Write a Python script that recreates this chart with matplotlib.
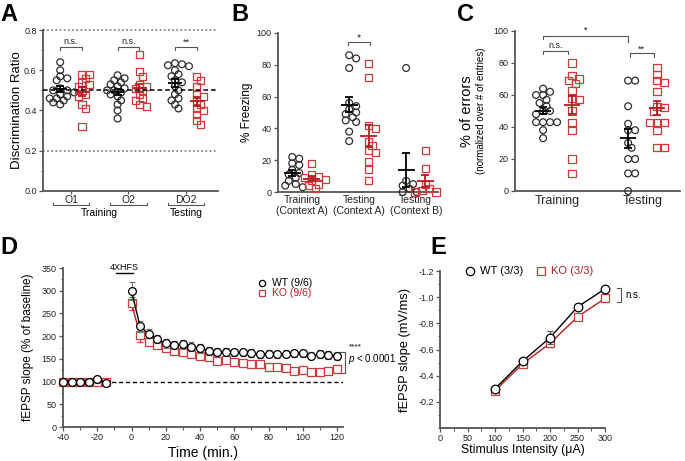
import numpy as np
import matplotlib
matplotlib.use('Agg')
import matplotlib.pyplot as plt
from matplotlib.ticker import MultipleLocator

plt.rcParams['font.family'] = ['Liberation Sans', 'DejaVu Sans']
plt.rcParams['axes.unicode_minus'] = False
plt.rcParams['mathtext.fontset'] = 'custom'
plt.rcParams['mathtext.it'] = 'Liberation Sans:italic'
plt.rcParams['mathtext.rm'] = 'Liberation Sans'

WT = '#2e2e2e'
KO = '#cf3a3a'
KO_DARK = '#b31d22'
GREY = '#555555'

# ---------------- data ----------------
# A: discrimination ratio
a_groups = ['O1', 'O2', 'DO2']
a_wt = [
    [0.64, 0.60, 0.56, 0.57, 0.55, 0.50, 0.46, 0.51, 0.50, 0.49, 0.48, 0.47, 0.46, 0.45, 0.44, 0.43],
    [0.575, 0.56, 0.55, 0.54, 0.53, 0.52, 0.51, 0.50, 0.50, 0.49, 0.48, 0.47, 0.45, 0.43, 0.40, 0.36],
    [0.635, 0.63, 0.625, 0.62, 0.60, 0.58, 0.57, 0.55, 0.54, 0.52, 0.50, 0.48, 0.46, 0.45, 0.43, 0.41],
]
a_ko = [
    [0.58, 0.58, 0.56, 0.54, 0.53, 0.52, 0.50, 0.48, 0.47, 0.43, 0.41, 0.32],
    [0.68, 0.595, 0.57, 0.53, 0.52, 0.51, 0.50, 0.48, 0.46, 0.45, 0.43, 0.42],
    [0.57, 0.55, 0.52, 0.48, 0.47, 0.45, 0.43, 0.41, 0.40, 0.38, 0.35, 0.33],
]

# B: % freezing
b_groups = ['Training\n(Context A)', 'Testing\n(Context A)', 'Testing\n(Context B)']
b_wt = [
    [22, 21, 18, 17, 14, 12, 11, 9, 7, 5, 4, 3],
    [86, 84, 78, 56, 54, 52, 50, 49, 47, 45, 44, 38, 32],
    [78, 7, 5, 4, 2, 0, 0],
]
b_ko = [
    [18, 11, 10, 9, 8, 7, 5, 4, 2],
    [81, 72, 42, 40, 32, 29, 26, 25, 19, 14, 7],
    [26, 15, 5, 2, 1, 0, 0],
]

# C: % of errors
c_groups = ['Training', 'Testing']
c_wt = [
    [64, 62, 60, 60, 57, 55, 53, 50, 50, 48, 43, 43, 43, 43, 38, 33],
    [69, 69, 53, 42, 38, 38, 30, 27, 20, 20, 11, 11, 0],
]
c_ko = [
    [80, 72, 70, 69, 67, 63, 58, 57, 50, 43, 38, 20, 11],
    [77, 73, 69, 68, 62, 53, 52, 50, 43, 43, 43, 38, 27, 27],
]

# D: LTP time course
d_t_base = [-40, -35, -30, -25, -20, -15]
d_wt_base = [100, 100, 100, 99, 105, 97]
d_wt_base_err = [2, 2, 2, 2, 8, 3]
d_ko_base = [100, 100, 100, 100, 99, 100]
d_ko_base_err = [2, 2, 2, 2, 3, 2]
d_t_post = [0, 5, 10, 15, 20, 25, 30, 35, 40, 45, 50, 55, 60, 65, 70, 75,
            80, 85, 90, 95, 100, 105, 110, 115, 120]
d_wt_post = [299, 222, 205, 194, 184, 181, 182, 177, 173, 168, 166, 166, 164,
             164, 163, 160, 161, 160, 161, 162, 162, 157, 160, 159, 157]
d_wt_post_err = [20, 12, 10, 9, 9, 9, 10, 10, 10, 9, 9, 9, 8, 8, 8, 8, 8, 8,
                 8, 8, 8, 8, 9, 9, 9]
d_ko_post = [272, 203, 188, 180, 175, 168, 165, 160, 157, 155, 146, 148, 144,
             140, 139, 139, 131, 131, 129, 123, 125, 122, 122, 123, 127]
d_ko_post_err = [15, 15, 8, 6, 6, 6, 5, 5, 5, 5, 6, 5, 5, 5, 5, 5, 5, 5, 5,
                 5, 5, 5, 5, 5, 5]

# E: input-output
e_x = [100, 150, 200, 250, 300]
e_wt = [-0.30, -0.51, -0.69, -0.925, -1.063]
e_wt_err = [0.02, 0.02, 0.05, 0.02, 0.02]
e_ko = [-0.285, -0.49, -0.647, -0.85, -0.99]
e_ko_err = [0.02, 0.02, 0.03, 0.02, 0.03]

# ---------------- helpers ----------------
W, H = 685, 461
fig = plt.figure(figsize=(W / 100, H / 100), dpi=100)


def px_axes(l, t, r, b):
    return fig.add_axes([l / W, 1 - b / H, (r - l) / W, (b - t) / H])


def style(ax, labelsize=6.5):
    for s in ['top', 'right']:
        ax.spines[s].set_visible(False)
    for s in ['left', 'bottom']:
        ax.spines[s].set_color(GREY)
        ax.spines[s].set_linewidth(1.3)
    ax.tick_params(direction='out', length=3, width=0.9, color=GREY,
                   labelsize=labelsize, labelcolor='#222222', pad=1.5)
    ax.tick_params(which='minor', direction='out', length=1.8, width=0.7, color=GREY)


def swarm_x(ax, center, vals, diam=7.0, gap=0.72):
    # beeswarm offsets computed in pixel space (points may overlap a little)
    bb = ax.get_window_extent()
    x0, x1 = ax.get_xlim()
    y0, y1 = ax.get_ylim()
    sx = bb.width / (x1 - x0)
    sy = bb.height / abs(y1 - y0)
    ys = np.asarray(vals, float) * sy
    offs = np.zeros(len(ys))
    placed = []
    for i in np.argsort(-ys, kind='stable'):
        k = 0
        while True:
            cands = [0.0] if k == 0 else [k * diam / 2, -k * diam / 2]
            hit = [c for c in cands
                   if all((c - px) ** 2 + (ys[i] - py) ** 2 >= (diam * gap) ** 2
                          for px, py in placed)]
            if hit:
                break
            k += 1
        offs[i] = hit[0]
        placed.append((hit[0], ys[i]))
    return center + offs / sx


def dots(ax, center, vals, marker, color, size=24):
    xs = swarm_x(ax, center, vals)
    ax.scatter(xs, vals, s=size, marker=marker, facecolors='none',
               edgecolors=color, linewidths=0.9, zorder=3, clip_on=False)


def mean_sem(ax, x, vals, color, half_w, cap_w):
    v = np.asarray(vals, float)
    m = v.mean()
    s = v.std(ddof=1) / np.sqrt(len(v))
    kw = dict(color=color, lw=1.3, zorder=5, solid_capstyle='butt')
    ax.plot([x - half_w, x + half_w], [m, m], **kw)
    ax.plot([x, x], [m - s, m + s], **kw)
    ax.plot([x - cap_w, x + cap_w], [m + s, m + s], **kw)
    ax.plot([x - cap_w, x + cap_w], [m - s, m - s], **kw)


def sig(ax, x1, x2, y, h, text, fs=6.5, dy=0.0):
    ax.plot([x1, x1, x2, x2], [y - h, y, y, y - h], color=GREY, lw=0.8, clip_on=False)
    ax.text((x1 + x2) / 2, y + dy, text, ha='center', va='bottom', fontsize=fs,
            color='#222222')


def letter(x, y, s):
    fig.text(x / W, 1 - y / H, s, fontsize=17, fontweight='bold', va='top', ha='left')


# ---------------- A ----------------
axA = px_axes(43, 30, 218, 191)
style(axA)
axA.set_xlim(-0.49, 2.56)
axA.set_ylim(0, 0.8)
axA.yaxis.set_major_locator(MultipleLocator(0.2))
axA.yaxis.set_minor_locator(MultipleLocator(0.1))
axA.yaxis.set_major_formatter(matplotlib.ticker.FormatStrFormatter('%.1f'))
axA.set_xticks(range(len(a_groups)))
axA.set_xticklabels(a_groups, fontsize=7.5)
axA.tick_params(axis='x', length=2.5, pad=0.5)
for yy in [0.8, 0.2]:
    axA.axhline(yy, color='#777777', lw=1.2, ls=(0, (1, 1.5)), clip_on=False)
axA.axhline(0.5, color='black', lw=1.1, ls=(0, (3, 2)), zorder=6)
for i in range(len(a_groups)):
    dots(axA, i - 0.19, a_wt[i], 'o', WT)
    dots(axA, i + 0.19, a_ko[i], 's', KO, size=26)
    mean_sem(axA, i - 0.19, a_wt[i], 'black', 0.12, 0.07)
    mean_sem(axA, i + 0.19, a_ko[i], KO_DARK, 0.12, 0.07)
sig(axA, 0 - 0.19, 0 + 0.19, 0.717, 0.015, 'n.s.', 6.5, 0.004)
sig(axA, 1 - 0.19, 1 + 0.19, 0.717, 0.015, 'n.s.', 6.5, 0.004)
sig(axA, 2 - 0.19, 2 + 0.19, 0.717, 0.015, '**', 6.5, 0.0)
axA.set_ylabel('Discrimination Ratio', fontsize=9.5)
axA.yaxis.set_label_coords(-0.115, 0.5)
trA = axA.get_xaxis_transform()
for i in range(len(a_groups)):
    axA.plot([i - 0.32, i - 0.32, i + 0.32, i + 0.32], [-0.075, -0.09, -0.09, -0.075],
             color=GREY, lw=0.8, transform=trA, clip_on=False)
axA.text(0.5, -0.105, 'Training', transform=trA, ha='center', va='top', fontsize=7.5)
axA.text(2, -0.105, 'Testing', transform=trA, ha='center', va='top', fontsize=7.5)

# ---------------- B ----------------
axB = px_axes(278, 33, 438, 192)
style(axB)
axB.set_xlim(-0.42, 2.39)
axB.set_ylim(0, 100)
axB.yaxis.set_major_locator(MultipleLocator(20))
axB.set_xticks(range(len(b_groups)))
axB.set_xticklabels(b_groups, fontsize=7.5)
axB.tick_params(axis='x', length=0, pad=2)
for i in range(len(b_groups)):
    dots(axB, i - 0.17, b_wt[i], 'o', WT)
    dots(axB, i + 0.17, b_ko[i], 's', KO, size=26)
    mean_sem(axB, i - 0.17, b_wt[i], 'black', 0.15, 0.07)
    mean_sem(axB, i + 0.17, b_ko[i], KO_DARK, 0.15, 0.07)
sig(axB, 1 - 0.19, 1 + 0.19, 94.5, 1.8, '*', 7.5, -1.0)
axB.set_ylabel('% Freezing', fontsize=8.5)
axB.yaxis.set_label_coords(-0.156, 0.5)

# ---------------- C ----------------
axC = px_axes(515, 31, 680, 191)
style(axC)
axC.set_xlim(-0.5, 1.44)
axC.set_ylim(0, 100)
axC.yaxis.set_major_locator(MultipleLocator(20))
axC.set_xticks(range(len(c_groups)))
axC.set_xticklabels(c_groups, fontsize=9)
axC.tick_params(axis='x', length=0, pad=3)
for i in range(len(c_groups)):
    dots(axC, i - 0.17, c_wt[i], 'o', WT)
    dots(axC, i + 0.17, c_ko[i], 's', KO, size=26)
    mean_sem(axC, i - 0.17, c_wt[i], 'black', 0.09, 0.05)
    mean_sem(axC, i + 0.17, c_ko[i], KO_DARK, 0.09, 0.05)
sig(axC, 0 - 0.17, 0 + 0.12, 87.5, 2.0, 'n.s.', 6.5, 0.5)
sig(axC, 1 - 0.15, 1 + 0.13, 86, 2.0, '**', 6.5, 0.0)
axC.plot([-0.17, -0.17, 0.83, 0.83], [95, 97, 97, 93], color=GREY, lw=0.8, clip_on=False)
axC.text(0.33, 97.5, '*', ha='center', va='bottom', fontsize=6.5)
axC.text(-0.29, 0.5, '% of errors', transform=axC.transAxes, rotation=90,
         ha='center', va='center', fontsize=10.5)
axC.text(-0.205, 0.5, '(normalized over # of entries)', transform=axC.transAxes,
         rotation=90, ha='center', va='center', fontsize=7)

# ---------------- D ----------------
axD = px_axes(63, 268, 343, 427)
style(axD)
axD.set_xlim(-40, 123.5)
axD.set_ylim(0, 350)
axD.xaxis.set_major_locator(MultipleLocator(20))
axD.xaxis.set_minor_locator(MultipleLocator(10))
axD.yaxis.set_major_locator(MultipleLocator(50))
axD.yaxis.set_minor_locator(MultipleLocator(25))
axD.axhline(100, color='black', lw=1.0, ls=(0, (3, 2)), zorder=1)
for t, wt, wte, ko, koe in [(d_t_base, d_wt_base, d_wt_base_err, d_ko_base, d_ko_base_err),
                            (d_t_post, d_wt_post, d_wt_post_err, d_ko_post, d_ko_post_err)]:
    axD.errorbar(t, ko, yerr=koe, color=KO_DARK, ecolor=KO, lw=1.0, elinewidth=0.8,
                 capsize=2, capthick=0.8, marker='s', ms=5.2, mfc='white', mec=KO,
                 mew=0.9, zorder=3, clip_on=False)
    axD.errorbar(t, wt, yerr=wte, color='black', ecolor='#777777', lw=1.0, elinewidth=0.8,
                 capsize=2, capthick=0.8, marker='o', ms=5.6, mfc='white', mec='black',
                 mew=0.9, zorder=4, clip_on=False)
axD.plot([-9, 1], [339, 339], color='black', lw=1.0, clip_on=False)
axD.text(-4, 342, '4XHFS', ha='center', va='bottom', fontsize=6.5, clip_on=False)
axD.plot([0.71], [0.906], marker='o', ms=4.5, mfc='white', mec='black', mew=0.9,
         transform=axD.transAxes, clip_on=False)
axD.text(0.745, 0.906, 'WT (9/6)', transform=axD.transAxes, va='center', fontsize=7.5)
axD.plot([0.71], [0.843], marker='s', ms=4.5, mfc='white', mec=KO, mew=0.9,
         transform=axD.transAxes, clip_on=False)
axD.text(0.745, 0.843, 'KO (9/6)', transform=axD.transAxes, va='center', fontsize=7.5,
         color=KO_DARK)
axD.plot([122, 124.8, 124.8, 122], [165, 165, 118, 118], color=GREY, lw=0.8, clip_on=False)
axD.text(127, 168, '****', fontsize=6, va='bottom', ha='left')
axD.text(126.5, 150, r'$\it{p}$ < 0.0001', fontsize=7, va='center', ha='left')
axD.set_ylabel('fEPSP slope (% of baseline)', fontsize=8.5)
axD.yaxis.set_label_coords(-0.104, 0.5)
axD.set_xlabel('Time (min.)', fontsize=10)
axD.xaxis.set_label_coords(0.5, -0.12)

# ---------------- E ----------------
axE = px_axes(440, 271, 605, 428)
style(axE)
axE.set_xlim(0, 300)
axE.set_ylim(0, -1.2)
axE.xaxis.set_major_locator(MultipleLocator(50))
axE.xaxis.set_minor_locator(MultipleLocator(25))
axE.set_yticks([-0.2, -0.4, -0.6, -0.8, -1.0, -1.2])
axE.yaxis.set_major_formatter(matplotlib.ticker.FormatStrFormatter('%.1f'))
axE.yaxis.set_minor_locator(MultipleLocator(0.1))
axE.errorbar(e_x, e_ko, yerr=e_ko_err, color=KO_DARK, ecolor=KO, lw=1.0, elinewidth=0.8,
             capsize=2, capthick=0.8, marker='s', ms=6, mfc='white', mec=KO, mew=0.9,
             zorder=3, clip_on=False)
axE.errorbar(e_x, e_wt, yerr=e_wt_err, color='black', ecolor='#555555', lw=1.0,
             elinewidth=0.8, capsize=2, capthick=0.8, marker='o', ms=6.2, mfc='white',
             mec='black', mew=0.9, zorder=4, clip_on=False)
axE.plot([0.18], [1.0], marker='o', ms=6, mfc='white', mec='black', mew=0.9,
         transform=axE.transAxes, clip_on=False)
axE.text(0.245, 1.0, 'WT (3/3)', transform=axE.transAxes, va='center', fontsize=8)
axE.plot([0.61], [1.0], marker='s', ms=5.5, mfc='white', mec=KO, mew=0.9,
         transform=axE.transAxes, clip_on=False)
axE.text(0.675, 1.0, 'KO (3/3)', transform=axE.transAxes, va='center', fontsize=8,
         color=KO_DARK)
axE.plot([322, 329, 329, 322], [-1.07, -1.07, -0.96, -0.96], color=GREY, lw=0.8,
         clip_on=False)
axE.text(338, -1.02, 'n.s.', fontsize=7, va='center', ha='left')
axE.set_ylabel('fEPSP slope (mV/ms)', fontsize=9.3)
axE.yaxis.set_label_coords(-0.176, 0.5)
axE.set_xlabel('Stimulus Intensity (\u03bcA)', fontsize=8.8)
axE.xaxis.set_label_coords(0.5, -0.10)

letter(0, 3, 'A')
letter(231, 3, 'B')
letter(457, 3, 'C')
letter(0, 236, 'D')
letter(430, 236, 'E')

fig.savefig('out.png', dpi=100)
